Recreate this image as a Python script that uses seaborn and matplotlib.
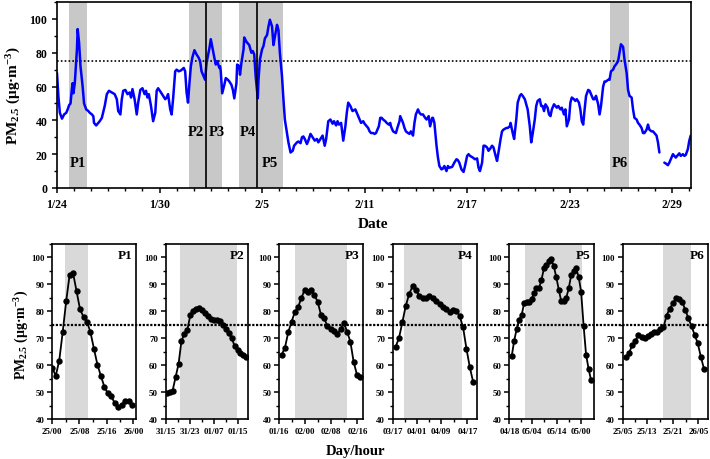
import numpy as np
import pandas as pd
import matplotlib
matplotlib.use("Agg")
import matplotlib.pyplot as plt
import matplotlib.transforms as mtransforms
from matplotlib.lines import Line2D
from matplotlib.ticker import MultipleLocator, FixedLocator
import seaborn as sns

# ---------------- data: top panel (hours since 1/24 00:00) ----------------
top_hours = [
    0, 2, 4, 7, 10, 13, 15, 17, 19, 21,
    22, 23, 25, 28, 29, 31, 33, 36, 38, 41,
    44, 46, 49, 51, 52, 55, 58, 60, 63, 67,
    70, 73, 77, 81, 84, 86, 89, 91, 93, 96,
    99, 102, 104, 106, 109, 112, 114, 117, 120, 123,
    125, 127, 129, 132, 135, 138, 140, 142, 146, 149,
    152, 154, 156, 159, 161, 163, 166, 168, 171, 174,
    178, 180, 182, 184, 186, 188, 190, 193, 196, 199,
    201, 203, 206, 208, 210, 214, 216, 218, 221, 223,
    225, 228, 229, 230, 232, 235, 237, 240, 242, 245,
    247, 249, 252, 253, 256, 257, 259, 262, 263, 266,
    268, 270, 273, 275, 277, 279, 282, 283, 285, 288,
    290, 292, 295, 297, 299, 302, 304, 306, 309, 311,
    313, 316, 318, 320, 323, 325, 328, 331, 333, 337,
    339, 342, 344, 346, 348, 351, 353, 356, 359, 362,
    365, 367, 370, 373, 376, 378, 381, 384, 387, 389,
    392, 394, 396, 399, 402, 405, 407, 409, 412, 415,
    419, 422, 425, 427, 430, 432, 434, 437, 439, 441,
    444, 446, 448, 452, 454, 456, 458, 461, 463, 466,
    468, 469, 472, 474, 476, 478, 481, 482, 484, 486,
    488, 490, 493, 495, 497, 500, 502, 504, 507, 509,
    511, 514, 517, 519, 522, 524, 527, 528, 530, 533,
    535, 537, 540, 542, 544, 547, 549, 551, 555, 558,
    561, 563, 565, 568, 571, 573, 576, 578, 580, 584,
    587, 590, 592, 594, 597, 599, 601, 604, 606, 608,
    611, 613, 616, 618, 620, 623, 625, 627, 631, 633,
    636, 637, 640, 642, 645, 647, 650, 652, 654, 657,
    659, 661, 664, 666, 668, 671, 673, 675, 678, 680,
    682, 684, 686, 689, 691, 693, 695, 698, 700, 702,
    704, 707, 709, 712, 714, 716, 719, 721, 723, 726,
    728, 730, 733, 735, 737, 739, 741, 743, 746, 748,
    750, 753, 755, 757, 760, 762, 764, 767, 769, 771,
    774, 776, 778, 781, 783, 785, 788, 790, 792, 795,
    797, 800, 802, 804, 807, 809, 811, 814, 816, 818,
    821, 823, 825, 828, 830, 832, 835, 837, 839, 842,
    844, 846,
    853, 855, 858, 860, 862, 865, 867, 869, 872, 874,
    876, 879, 881, 883, 886, 888, 890,
]
top_pm = [
    68, 54, 44.5, 41, 43.5, 44.5, 46.5, 49, 50, 59,
    62, 56, 62, 82, 94, 86, 72, 60, 50, 46.5,
    45.5, 44.5, 43.5, 42.5, 38.5, 37, 38.5, 39.5, 41.5, 48.5,
    55.5, 57.5, 56.5, 55.5, 52.5, 45.5, 43.5, 52.5, 57.5, 58,
    55.5, 56.5, 53.5, 58.5, 52.5, 43.5, 50.5, 58, 59, 55.5,
    57.5, 53.5, 55.5, 48.5, 39.5, 44.5, 57.5, 59, 56.5, 54.5,
    52.5, 53.5, 55.5, 46.5, 43.5, 52.5, 69, 70, 69, 69.5,
    71, 69, 56.5, 50.5, 62, 72, 77, 81.5, 79, 77,
    75, 69, 66, 64, 74, 82.5, 88, 83.5, 77, 73,
    75, 71, 72, 69, 56, 61, 65, 64, 63, 61,
    58, 53, 62, 73, 72, 67, 74, 82, 89, 86.5,
    85.5, 84.5, 80, 81, 79, 66, 53, 64, 76, 82,
    84, 88.5, 90.5, 95.5, 99.5, 95.5, 84.5, 89.5, 96.5, 93.5,
    80, 66, 52.5, 40.5, 32.5, 27, 21, 22, 25, 27,
    27.5, 26.5, 30, 30.5, 29, 26, 28, 32, 30, 28,
    29, 27, 29, 31, 25, 29, 39.5, 40.5, 38, 39.5,
    37, 39.5, 37.5, 38.5, 28, 36.5, 44.5, 50.5, 48.5, 45.5,
    46.5, 43.5, 40.5, 38.5, 39.5, 38, 37, 35.5, 33.5, 32.5,
    32.5, 32, 32.5, 36.5, 41.5, 41.5, 40.5, 39.5, 38.5, 37.5,
    38.5, 36.5, 33.5, 33, 32.5, 35.5, 39.5, 42.5, 40.5, 38.5,
    35.5, 33.5, 32.5, 32, 33.5, 31, 38.5, 43.5, 46.5, 44.5,
    43.5, 43.5, 41.5, 40.5, 42.5, 36.5, 41.5, 41.5, 38.5, 25,
    18, 13, 11, 11.5, 13, 10, 13, 12, 12.5, 15,
    17, 16.5, 15, 11, 9.5, 13, 19, 20, 19, 18,
    17, 17.5, 12, 10, 15, 25, 25, 24, 22, 23,
    25, 24, 19, 16, 21, 29, 33.5, 34.5, 35.5, 35.5,
    36.5, 38.5, 32.5, 29, 40.5, 50.5, 54.5, 55.5, 54.5, 52.5,
    49.5, 46.5, 36.5, 27, 32, 40.5, 48.5, 51.5, 52.5, 48.5,
    48.5, 45.5, 49.5, 47.5, 43.5, 42.5, 46.5, 49.5, 48.5, 47.5,
    48.5, 46.5, 47.5, 43.5, 46.5, 36.5, 40.5, 50.5, 53.5, 52.5,
    51.5, 52.5, 50.5, 46.5, 39.5, 37.5, 46.5, 54.5, 58, 57.5,
    55.5, 52.5, 52.5, 54.5, 49.5, 43.5, 48.5, 60, 63, 63,
    64, 64, 69, 70, 72, 73, 75, 80, 85, 83.5,
    76, 68, 58, 54.5, 53.5, 46.5, 41.5, 40.5, 38.5, 37.5,
    35.5, 32.5, 32.5, 34.5, 37.5, 34.5, 33.5, 33.5, 32.5, 31,
    27, 21,
    15, 14.5, 13.5, 15, 17, 20, 19, 18, 19.5, 20.5,
    19, 20, 19, 19.5, 23, 28, 31,
]
gap_hour = 849                       # data missing around this hour
date_tick_days = [0, 6, 12, 18, 24, 30, 36]
date_tick_labels = ["1/24", "1/30", "2/5", "2/11", "2/17", "2/23", "2/29"]
episode_names = ["P1", "P2", "P3", "P4", "P5", "P6"]
episode_start_day = [0.72, 7.75, 8.72, 10.67, 11.73, 32.36]
episode_end_day = [1.78, 8.72, 9.68, 11.73, 13.21, 33.49]
boundary_days = [8.72, 11.73]
standard_pm = 75

# ---------------- data: bottom panels (hourly values) ----------------
p1_pm = [58.8, 56.1, 61.7, 72.3, 83.8, 93.6, 94.1, 87.4, 80.7, 77.9, 76.1, 72.2,
         66.1, 60.2, 56.0, 52.0, 49.5, 48.4, 45.9, 44.6, 45.2, 46.8, 46.7, 45.1]
p2_pm = [49.7, 50.0, 50.5, 55.5, 60.3, 69.0, 71.6, 73.2, 78.5, 80.1, 81.0, 81.2,
         80.3, 79.2, 78.1, 77.1, 76.6, 76.6, 76.5, 75.1, 73.4, 71.8, 70.1, 67.2,
         65.6, 64.6, 63.8, 63.1]
p3_pm = [63.9, 66.5, 72.2, 76.1, 79.6, 81.6, 84.8, 88.0, 87.0, 88.0, 86.0, 83.6,
         78.7, 77.4, 74.4, 73.3, 72.8, 71.6, 73.3, 75.8, 72.4, 68.7, 61.2, 56.5, 55.6]
p4_pm = [66.9, 70.2, 76.1, 82.1, 86.4, 89.3, 88.0, 85.8, 84.8, 85.1, 85.8, 84.8,
         83.8, 82.7, 81.7, 80.7, 79.7, 80.5, 80.2, 78.2, 74.0, 66.1, 59.2, 53.7]
p5_pm = [63.3, 69.1, 73.4, 76.9, 78.6, 82.9, 83.6, 83.6, 84.6, 86.7, 88.6, 88.6,
         91.6, 96.0, 97.2, 98.5, 99.4, 96.7, 92.6, 88.0, 83.7, 83.8, 85.0, 88.5,
         93.4, 94.8, 95.9, 92.8, 87.3, 74.7, 63.9, 58.7, 54.5]
p6_pm = [62.9, 64.6, 67.4, 69.1, 71.3, 70.6, 70.2, 70.9, 71.7, 72.4, 72.4, 73.4,
         74.0, 78.4, 81.0, 82.9, 84.8, 84.6, 83.6, 80.5, 77.5, 74.4, 71.3, 68.1,
         63.1, 58.6]
p1_labels = ["25/00", "25/08", "25/16", "26/00"]
p2_labels = ["31/15", "31/23", "01/07", "01/15"]
p3_labels = ["01/16", "02/00", "02/08", "02/16"]
p4_labels = ["03/17", "04/01", "04/09", "04/17"]
p5_labels = ["04/18", "05/04", "05/14", "05/00"]
p6_labels = ["25/05", "25/13", "25/21", "26/05"]
# episode (shaded) span, in hours from the first sample of each panel
bottom_shade_start = [3.75, 4.5, 4.04, 2.55, 5.36, 11.86]
bottom_shade_end = [10.2, 23.93, 19.97, 19.6, 28.47, 20.93]

# ---------------- layout ----------------
W, H = 710, 460
def px_rect(l, r, t, b):
    return [l / W, 1 - b / H, (r - l) / W, (b - t) / H]

sns.set_style("ticks")
plt.rcParams.update({
    "font.family": ["Liberation Serif", "DejaVu Serif"],
    "font.weight": "bold",
    "axes.labelweight": "bold",
    "text.color": "black",
    "axes.labelcolor": "black",
    "mathtext.fontset": "custom",
    "mathtext.rm": "Liberation Serif:bold",
    "mathtext.it": "Liberation Serif:italic:bold",
    "mathtext.bf": "Liberation Serif:bold",
    "axes.linewidth": 1.2,
    "axes.edgecolor": "black",
    "xtick.color": "black", "ytick.color": "black",
    "xtick.labelcolor": "black", "ytick.labelcolor": "black",
    "xtick.direction": "out", "ytick.direction": "out",
    "xtick.major.width": 1.1, "ytick.major.width": 1.1,
    "xtick.minor.width": 1.0, "ytick.minor.width": 1.0,
    "xtick.major.size": 3.5, "ytick.major.size": 3.5,
    "xtick.minor.size": 2.0, "ytick.minor.size": 2.0,
})

fig = plt.figure(figsize=(W / 100, H / 100), dpi=100)
ylabel_text = r"PM$_{\mathrm{2.5}}$ (μg·m$^{\mathrm{-3}}$)"

# ---- top panel ----
ax = fig.add_axes(px_rect(57, 691, 3, 189))
for s, e in zip(episode_start_day, episode_end_day):
    ax.axvspan(s, e, color="#c8c8c8", lw=0, zorder=0)
ax.axhline(standard_pm, color="black", lw=1.2, ls=(0, (1, 1.3)), zorder=1)
for d in boundary_days:
    ax.axvline(d, color="black", lw=1.2, zorder=3)
df = pd.DataFrame({"day": np.array(top_hours) / 24.0, "pm": top_pm})
df["segment"] = np.where(np.array(top_hours) > gap_hour, 1, 0)
sns.lineplot(data=df, x="day", y="pm", units="segment", estimator=None,
             color="#0000ff", lw=1.8, ax=ax, zorder=2)
ax.set_xlim(0, 37.1)
ax.set_ylim(0, 110)
ax.set_xticks(date_tick_days)
ax.set_xticklabels(date_tick_labels, fontsize=8.5, fontweight="bold")
ax.xaxis.set_minor_locator(MultipleLocator(1))
ax.yaxis.set_major_locator(MultipleLocator(20))
ax.yaxis.set_minor_locator(MultipleLocator(10))
ax.tick_params(axis="y", labelsize=8.5)
for lab in ax.get_yticklabels():
    lab.set_fontweight("bold")
ax.set_xlabel("")
ax.set_ylabel("")
top_label_pos = [(1.23, 15.3), (8.14, 33.5), (9.37, 33.5), (11.18, 33.5), (12.47, 15.3), (32.96, 15.3)]
for name, (tx, ty) in zip(episode_names, top_label_pos):
    ax.text(tx, ty, name, ha="center", va="center", fontsize=10.5, fontweight="bold",
            color="black", zorder=4)
for sp in ax.spines.values():
    sp.set_visible(True)
fig.text(14 / W, 1 - 96 / H, ylabel_text, rotation=90, ha="center", va="center",
         fontsize=11, fontweight="bold", color="black")
fig.text(373 / W, 1 - 224 / H, "Date", ha="center", va="center", fontsize=11,
         fontweight="bold", color="black")

# ---- bottom panels ----
panel_px = [(52.3, 136.0), (165.7, 248.3), (279.3, 363.3), (392.7, 476.7), (509.3, 594.0), (622.7, 708.3)]
panel_xlim = [(0, 24.12), (-0.34, 27.66), (-0.73, 24.95), (-0.89, 24.04), (-0.97, 33.2), (-1.06, 26.38)]
panel_ticks = [[0, 7.78, 15.68, 23.34], [-0.34, 7.9, 15.93, 24.07], [-0.73, 7.13, 14.98, 23.12],
               [-0.89, 6.32, 13.35, 21.3], [-0.97, 8.3, 18.15, 27.94], [-1.06, 6.83, 15.06, 23.17]]
series = [p1_pm, p2_pm, p3_pm, p4_pm, p5_pm, p6_pm]
labels = [p1_labels, p2_labels, p3_labels, p4_labels, p5_labels, p6_labels]
axes_b = []
for i in range(6):
    l, r = panel_px[i]
    b = fig.add_axes(px_rect(l, r, 245, 420))
    axes_b.append(b)
    b.axvspan(bottom_shade_start[i], bottom_shade_end[i], color="#d9d9d9", lw=0, zorder=0)
    vals = series[i]
    sns.lineplot(x=np.arange(len(vals)), y=vals, ax=b, color="black", lw=1.3,
                 marker="o", markersize=4.6, markeredgewidth=0, zorder=2)
    b.set_xlim(*panel_xlim[i])
    b.set_ylim(40, 105)
    t = panel_ticks[i]
    b.set_xticks(t)
    b.set_xticklabels(labels[i], fontsize=6.4, fontweight="bold")
    mids = [(t[k] + t[k + 1]) / 2 for k in range(len(t) - 1)]
    b.xaxis.set_minor_locator(FixedLocator(mids))
    b.yaxis.set_major_locator(MultipleLocator(10))
    b.yaxis.set_minor_locator(MultipleLocator(5))
    b.tick_params(axis="y", labelsize=6.4, pad=2)
    b.tick_params(axis="x", pad=2.5)
    for lab in b.get_yticklabels():
        lab.set_fontweight("bold")
    b.set_xlabel("")
    b.set_ylabel("")
    for sp in b.spines.values():
        sp.set_visible(True)
    b.text(1 - 4 / (r - l), 1 - 5 / 175, episode_names[i], transform=b.transAxes,
           ha="right", va="top", fontsize=9.5, fontweight="bold", color="black", zorder=4)

fig.text(22 / W, 1 - 335 / H, ylabel_text, rotation=90, ha="center", va="center",
         fontsize=10, fontweight="bold", color="black")

# continuous standard line across all bottom panels
trans = mtransforms.blended_transform_factory(fig.transFigure, axes_b[0].transData)
fig.add_artist(Line2D([52.3 / W, 708.3 / W], [standard_pm, standard_pm], transform=trans,
                      color="black", lw=1.6, ls=(0, (1, 0.7)), zorder=5))

fig.text(355.7 / W, 1 - 452 / H, "Day/hour", ha="center", va="center", fontsize=10.5,
         fontweight="bold", color="black")

fig.savefig("out.png", dpi=100)
